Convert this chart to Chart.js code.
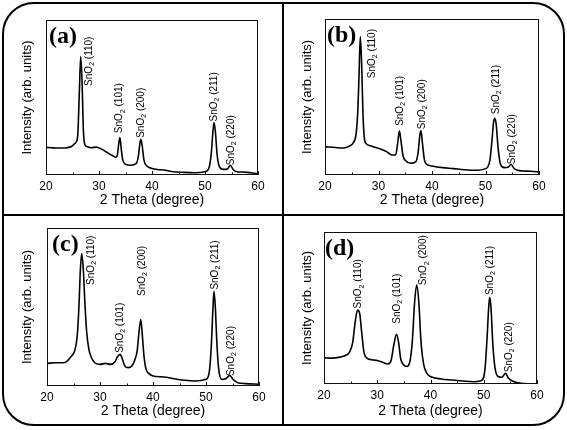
<!DOCTYPE html>
<html>
<head>
<meta charset="utf-8">
<script src="https://cdn.jsdelivr.net/npm/chart.js@4.4.1/dist/chart.umd.min.js"></script>
<style>
  body { margin: 0; background: #fff; }
  #wrap { position: relative; width: 567px; height: 430px; overflow: hidden; }
  #wrap canvas { position: absolute; }
  .frame { position: absolute; left: 2px; top: 2px; width: 559px; height: 420px; border: 2px solid #000; border-radius: 32px; }
  .vline { position: absolute; left: 282px; top: 3px; width: 2px; height: 422px; background: #000; }
  .hline { position: absolute; left: 3px; top: 214px; width: 560px; height: 2px; background: #000; }
</style>
</head>
<body>
<div id="wrap">
  <div class="frame"></div>
  <div class="vline"></div>
  <div class="hline"></div>
  <canvas id="cA" width="278" height="210"></canvas>
  <canvas id="cB" width="278" height="210"></canvas>
  <canvas id="cC" width="278" height="209"></canvas>
  <canvas id="cD" width="278" height="209"></canvas>
</div>
<script>
// peak names, shared by all four patterns
const peakNames = ["(110)", "(101)", "(200)", "(211)", "(220)"];

// (a)
const thetaA = [20, 21, 22, 23, 24, 24.8, 25.3, 25.7, 26.0, 26.3, 26.55, 26.8, 27.05, 27.3, 27.7, 28.5, 29.5, 30.5, 31.5, 32.5,
  33.2, 33.5, 33.75, 33.95, 34.2, 34.5, 35, 36, 37, 37.4, 37.7, 37.9, 38.15, 38.5, 39, 40, 41, 42.5, 44, 46,
  48, 50, 50.8, 51.2, 51.5, 51.7, 51.95, 52.3, 52.8, 53.5, 54.2, 54.8, 55.3, 56, 57, 58, 59, 60];
const intensityA = [17.8, 17.6, 17.4, 17.4, 17.6, 18.4, 19.9, 21.3, 26.2, 54.4, 76.4, 60.7, 29.3, 19.9, 18.4, 17.6, 18, 16.7, 14.6, 12.6,
  11.5, 13.6, 20.9, 24.1, 16.7, 9.4, 6.9, 6.3, 7.3, 11.5, 19.9, 23, 18.8, 9.4, 5.9, 4.2, 3.6, 3.1, 2.1, 1.7,
  1.5, 2.1, 5.2, 14.6, 28.2, 33.9, 28.2, 12.6, 4.8, 3.6, 3.8, 6.3, 3.6, 2.1, 1.9, 1.7, 1.3, 0.8];
const labelThetaA = [28.2, 33.9, 38.0, 51.7, 55.0];
const labelLevelA = [57.5, 27, 24, 34.5, 6.3];

// (b)
const thetaB = [20, 22, 23.5, 24.5, 25.3, 25.8, 26.1, 26.35, 26.6, 26.85, 27.1, 27.35, 27.7, 28.5, 29.5, 30.5, 31.5, 32.5, 33.2, 33.6,
  33.9, 34.2, 34.6, 35, 36, 37, 37.4, 37.75, 37.95, 38.2, 38.6, 39, 40, 42, 44, 46, 48, 50, 50.8, 51.2,
  51.5, 51.75, 52, 52.35, 52.8, 53.5, 54.3, 54.8, 55.3, 56, 57, 58.5, 60];
const intensityB = [18.2, 17.6, 17.3, 18.4, 20.8, 26.1, 39, 62.5, 88.7, 71.1, 39, 24, 20.1, 18.8, 17.6, 16.5, 15, 12.8, 12.8, 20.8,
  28.3, 21.8, 12.2, 9.4, 7.5, 8.6, 14.3, 26.1, 28.3, 20.8, 9.4, 6.9, 5.8, 4.7, 4.1, 3.4, 3, 4.1, 9, 21.8,
  33.6, 36.4, 32.5, 17.6, 6.9, 4.7, 5.1, 6.9, 4.3, 3, 2.6, 2.4, 1.9];
const labelThetaB = [28.8, 34.1, 38.2, 52.0, 55.0];
const labelLevelB = [62, 31.5, 29.3, 39, 6.9];

// (c)
const thetaC = [20, 21.5, 23, 23.8, 24.5, 25.2, 25.7, 26.0, 26.3, 26.55, 26.85, 27.15, 27.5, 27.9, 28.4, 29, 30, 31, 32, 32.8,
  33.3, 33.8, 34.2, 34.7, 35.3, 36, 36.6, 37, 37.35, 37.7, 38.0, 38.3, 38.7, 39.2, 40, 42, 44, 46, 48, 50,
  50.6, 51.0, 51.3, 51.5, 51.75, 52.05, 52.4, 53, 53.8, 54.5, 55.1, 56, 57.5, 60];
const intensityC = [14.3, 14.7, 14.7, 15.8, 18.5, 22.1, 31.6, 48.4, 73.7, 83.8, 73.7, 52.6, 33.7, 23.2, 17.9, 14.7, 13.7, 14.3, 13.7, 15.2,
  18.5, 20, 17.3, 12.6, 11.6, 12.6, 16.8, 22.1, 33.7, 42.1, 31.6, 18.9, 10.5, 8, 6.3, 5.7, 4.6, 3.6, 3.2, 4.2,
  8.4, 25.3, 48.4, 60, 50.5, 27.4, 10.5, 4.2, 4.8, 6.7, 4.2, 2.1, 1.5, 1.1];
const labelThetaC = [28.3, 33.8, 38.0, 51.7, 54.8];
const labelLevelC = [64, 21, 57, 61, 6.3];

// (d)
const thetaD = [20, 21.5, 23, 24, 24.8, 25.4, 25.9, 26.3, 26.7, 27.1, 27.5, 28, 29, 30, 31, 32, 32.6, 33.1, 33.6, 34.0,
  34.4, 34.9, 35.5, 36.1, 36.6, 37.0, 37.4, 37.8, 38.2, 38.7, 39.3, 40, 42, 44, 46, 48, 49.5, 50.2, 50.6, 50.9,
  51.1, 51.35, 51.7, 52.1, 52.7, 53.4, 54.1, 54.6, 55.5, 57, 60];
const intensityD = [17.2, 17, 17.7, 18.8, 21, 27.6, 41.9, 48.6, 46.4, 33.1, 21, 17.2, 15.9, 15.5, 14.3, 13.2, 15.5, 25.4, 32.7, 27.6,
  16.6, 12.8, 11.5, 14.3, 28.7, 53, 65.1, 54.1, 28.7, 13.2, 7.1, 4.9, 3.3, 2.6, 2, 1.5, 2.2, 8.8, 28.7, 48.6,
  57, 50.8, 26.5, 11, 4.9, 4.4, 7.1, 4, 1.8, 0.4, 0];
const labelThetaD = [26.5, 33.7, 38.7, 51.2, 54.7];
const labelLevelD = [49.7, 39.7, 65, 58.5, 7.7];

const xTicks = [20, 30, 40, 50, 60];

const panels = [
  { id: "cA", left: 4, top: 4, w: 278, h: 210, area: [46, 20, 258, 175], letter: "(a)", dx: 3,
    theta: thetaA, inten: intensityA, lt: labelThetaA, lv: labelLevelA },
  { id: "cB", left: 284, top: 4, w: 278, h: 210, area: [325, 19, 539, 175], letter: "(b)", dx: 2,
    theta: thetaB, inten: intensityB, lt: labelThetaB, lv: labelLevelB },
  { id: "cC", left: 4, top: 216, w: 278, h: 209, area: [47, 228, 259, 386], letter: "(c)", dx: 5,
    theta: thetaC, inten: intensityC, lt: labelThetaC, lv: labelLevelC },
  { id: "cD", left: 284, top: 216, w: 278, h: 209, area: [324, 232, 537, 384], letter: "(d)", dx: 1,
    theta: thetaD, inten: intensityD, lt: labelThetaD, lv: labelLevelD }
];

const deco = {
  id: "deco",
  afterDatasetsDraw(chart, args, o) {
    const { ctx, chartArea: a, scales: { x, y } } = chart;
    ctx.save();
    ctx.strokeStyle = "#111";
    ctx.lineWidth = 1;
    ctx.strokeRect(a.left + 0.5, a.top + 0.5, a.right - a.left - 1, a.bottom - a.top - 1);

    // inward ticks on the bottom axis, minor halfway
    const ticks = x.ticks.map(t => t.value);
    ticks.forEach((v, i) => {
      const px = Math.round(x.getPixelForValue(v)) + 0.5;
      ctx.beginPath(); ctx.moveTo(px, a.bottom); ctx.lineTo(px, a.bottom - 4); ctx.stroke();
      if (i < ticks.length - 1) {
        const mx = Math.round(x.getPixelForValue((v + ticks[i + 1]) / 2)) + 0.5;
        ctx.beginPath(); ctx.moveTo(mx, a.bottom); ctx.lineTo(mx, a.bottom - 2.5); ctx.stroke();
      }
    });

    // peak labels, rotated
    ctx.fillStyle = "#000";
    ctx.textAlign = "left";
    ctx.textBaseline = "middle";
    o.lt.forEach((t, i) => {
      ctx.save();
      ctx.translate(x.getPixelForValue(t), y.getPixelForValue(o.lv[i]));
      ctx.rotate(-Math.PI / 2);
      ctx.font = '10px "Liberation Sans", Arial, sans-serif';
      ctx.fillText("SnO", 0, 0);
      let w = ctx.measureText("SnO").width;
      ctx.font = '7px "Liberation Sans", Arial, sans-serif';
      ctx.fillText("2", w, 3);
      w += ctx.measureText("2").width;
      ctx.font = '10px "Liberation Sans", Arial, sans-serif';
      ctx.fillText(" " + peakNames[i], w, 0);
      ctx.restore();
    });

    ctx.font = 'bold 24px "Liberation Serif", "Times New Roman", serif';
    ctx.textBaseline = "top";
    ctx.fillText(o.letter, a.left + o.dx, a.top + 5);
    ctx.restore();
  }
};

panels.forEach(p => {
  const cv = document.getElementById(p.id);
  cv.style.left = p.left + "px";
  cv.style.top = p.top + "px";
  const [L, T, R, B] = p.area;
  new Chart(cv, {
    type: "line",
    data: {
      datasets: [{
        data: p.theta.map((t, i) => ({ x: t, y: p.inten[i] })),
        borderColor: "#000",
        borderWidth: 1.6,
        pointRadius: 0,
        cubicInterpolationMode: "monotone"
      }]
    },
    options: {
      responsive: false,
      animation: false,
      devicePixelRatio: 1,
      layout: { autoPadding: false, padding: { left: 0, top: T - p.top, right: p.left + p.w - R, bottom: 0 } },
      plugins: {
        legend: { display: false },
        tooltip: { enabled: false },
        deco: { letter: p.letter, dx: p.dx, lt: p.lt, lv: p.lv }
      },
      scales: {
        x: {
          type: "linear",
          min: 20, max: 60,
          afterBuildTicks: s => { s.ticks = xTicks.map(v => ({ value: v })); },
          afterFit: s => { s.height = p.top + p.h - B; },
          grid: { display: false, drawTicks: false },
          border: { display: false },
          ticks: { color: "#000", padding: 4, maxRotation: 0, font: { family: '"Liberation Sans", Arial, sans-serif', size: 12 } },
          title: { display: true, text: "2 Theta (degree)", color: "#000", padding: { top: 0, bottom: 5 },
                   font: { family: '"Liberation Sans", Arial, sans-serif', size: 14 } }
        },
        y: {
          min: 0, max: 100,
          afterFit: s => { s.width = L - p.left; },
          grid: { display: false, drawTicks: false },
          border: { display: false },
          ticks: { display: false },
          title: { display: true, text: "Intensity (arb. units)", color: "#000", padding: { top: 16, bottom: 0 },
                   font: { family: '"Liberation Sans", Arial, sans-serif', size: 13 } }
        }
      }
    },
    plugins: [deco]
  });
});
</script>
</body>
</html>
